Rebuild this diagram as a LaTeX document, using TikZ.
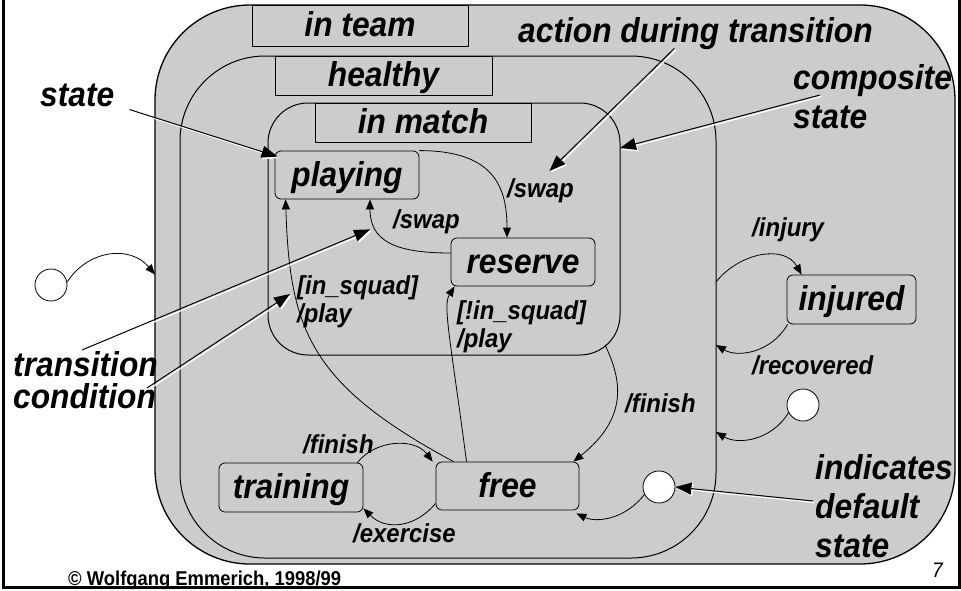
\documentclass[tikz,border=0pt]{standalone}
\usepackage{fontspec}
\setmainfont{Liberation Sans}[FakeStretch=0.92]
\usetikzlibrary{arrows.meta}
\definecolor{stategray}{RGB}{204,204,204}
\newcommand\pointto[2]{%
  \draw[pointershadow] #1 -- #2;
  \draw[pointer] #1 -- #2;}

\begin{document}
\begin{tikzpicture}[x=1pt,y=-1pt,
  composite/.style={draw, fill=stategray, line width=1pt, inner sep=0pt, outer sep=0pt},
  namebox/.style={draw, fill=stategray, line width=0.8pt, inner sep=0pt, text height=22pt, text depth=0pt,
    font=\bfseries\itshape\fontsize{34.5}{39}\selectfont},
  stat/.style={draw, fill=stategray, line width=0.8pt, rounded corners=6pt, inner sep=0pt, minimum height=49pt,
    text height=22pt, text depth=0pt, font=\bfseries\itshape\fontsize{34.5}{39}\selectfont},
  startdot/.style={draw, fill=white, circle, minimum size=32pt, inner sep=0pt, line width=0.8pt},
  trans/.style={line width=0.8pt, -{Triangle[length=10pt,width=8pt]}},
  guard/.style={anchor=base west, inner sep=0pt, align=left, font=\bfseries\itshape\fontsize{26}{28}\selectfont},
  note/.style={anchor=base west, inner sep=0pt, align=left, font=\bfseries\itshape\fontsize{34.5}{39}\selectfont},
  pointer/.style={line width=1pt, -{Triangle[length=16pt,width=12pt]}},
  pointershadow/.style={draw=white, line width=1.2pt, -{Triangle[length=16pt,width=12pt]},
    transform canvas={xshift=1.5pt,yshift=-1.5pt}},
]
\useasboundingbox (0,0) rectangle (961,590);
\draw[line width=3pt] (3.5,0) -- (3.5,587) -- (959,587) -- (959,0);

\node[composite, line width=1.3pt, rounded corners=95pt, minimum width=800pt, minimum height=559pt] (inteam) at (555,284.5) {};
\node[composite, rounded corners=85pt, minimum width=536pt, minimum height=502pt] (healthy) at (448,307) {};
\node[composite, rounded corners=40pt, minimum width=352pt, minimum height=252pt] (inmatch) at (444,229) {};
\node[namebox, minimum width=216pt, minimum height=41pt] (inteamname) at (360,25.5) {in team};
\node[namebox, minimum width=217pt, minimum height=39pt] (healthyname) at (383.5,75.5) {healthy};
\node[namebox, minimum width=216pt, minimum height=39pt] (inmatchname) at (423,122.5) {in match};

\node[stat, minimum width=144pt, minimum height=48pt] (playing) at (347,175) {playing};
\node[stat, minimum width=144pt, minimum height=48pt] (reserve) at (523,262) {reserve};
\node[stat, minimum width=144pt] (training) at (291,487.5) {training};
\node[stat, minimum width=143pt, minimum height=48pt] (free) at (507.5,486) {free};
\node[stat, minimum width=129pt] (injured) at (851.5,299.5) {injured};
\node[startdot] (init1) at (51,285) {};
\node[startdot] (init2) at (803,405) {};
\node[startdot] (init3) at (659,487) {};
\coordinate (matchexit) at (605,345);

\draw[trans] (init1.10) .. controls +(20,-32) and +(-25,-30) .. ([shift={(0,-10)}]inteam.west);
\draw[trans] ([shift={(0,-25)}]healthy.east) .. controls +(24,-30) and +(-17,-30) .. ([shift={(15,0)}]injured.north west);
\draw[trans] ([shift={(1,0)}]injured.south west) .. controls +(-16,28) and +(22,13) .. ([shift={(0,38)}]healthy.east);
\draw[trans] (init2.208) .. controls +(-17,28) and +(22,13) .. ([shift={(0,125)}]healthy.east);
\draw[trans] (init3.207) .. controls +(-20,26) and +(19,9) .. ([shift={(-3,3)}]free.south east);
\draw[trans] (playing.north east) .. controls +(75,0) and +(0,-50) .. ([shift={(-16,0)}]reserve.north);
\draw[trans] ([shift={(0,-9)}]reserve.west) .. controls +(-55,0) and +(0,42) .. ([shift={(23,0)}]playing.south);
\draw[trans] ([shift={(-41,0)}]free.north) .. controls +(-16,-122) and +(-12,19) .. ([shift={(4,0)}]reserve.south west);
\draw[trans] ([shift={(-54,0)}]free.north) .. controls +(-143,-77) and +(4,131) .. ([shift={(11,0)}]playing.south west);
\draw[trans] (matchexit) .. controls +(17,35) and +(55,-44) .. ([shift={(-6,0)}]free.north east);
\draw[trans] ([shift={(-6,0)}]training.north east) .. controls +(18,-23) and +(-18,-24) .. ([shift={(-3,0)}]free.north west);
\draw[trans] ([shift={(0,-7)}]free.south west) .. controls +(-21,25) and +(22,22) .. ([shift={(0,-4)}]training.south east);

\node[guard] (swaptop) at (507,197) {/swap};
\node[guard] (swapback) at (393,228) {/swap};
\node[guard] (insquad) at (297,322) {[in\_squad]\\/play};
\node[guard] (notinsquad) at (457,347) {[!in\_squad]\\/play};
\node[guard] (injury) at (752,236) {/injury};
\node[guard] (recovered) at (752,374) {/recovered};
\node[guard] (finishmatch) at (625,412) {/finish};
\node[guard] (finishtraining) at (303,453) {/finish};
\node[guard] (exercise) at (353,542) {/exercise};

\node[note] (statenote) at (40,106) {state};
\node[note] (actionnote) at (518,42) {action during transition};
\node[note] (compositenote) at (793,128) {composite\\state};
\node[note, font=\bfseries\itshape\fontsize{34.5}{32}\selectfont] (transitionnote) at (13,408) {transition\\condition};
\node[note] (defaultnote) at (815,557) {indicates\\default\\state};
\node[anchor=base west, inner sep=0pt, font=\bfseries\fontsize{20}{22}\selectfont] (copyright) at (68,585) {© Wolfgang Emmerich, 1998/99};
\node[anchor=base west, inner sep=0pt, font=\itshape\fontsize{21}{24}\selectfont] (pagenum) at (932,577) {7};

\pointto{([shift={(15,3)}]statenote.south east)}{([shift={(3,6)}]playing.north west)}
\pointto{([shift={(-21,-1)}]actionnote.south)}{([shift={(9,-7)}]swaptop.north)}
\pointto{([shift={(27,-33)}]compositenote.base west)}{([shift={(0,-81)}]inmatch.east)}
\pointto{([shift={(69,-58)}]transitionnote.base west)}{([shift={(23,30)}]playing.south)}
\pointto{([shift={(134,-20)}]transitionnote.base west)}{([shift={(-7,-28)}]insquad.base west)}
\pointto{([shift={(-2,-56)}]defaultnote.base west)}{(init3.east)}
\end{tikzpicture}
\end{document}
